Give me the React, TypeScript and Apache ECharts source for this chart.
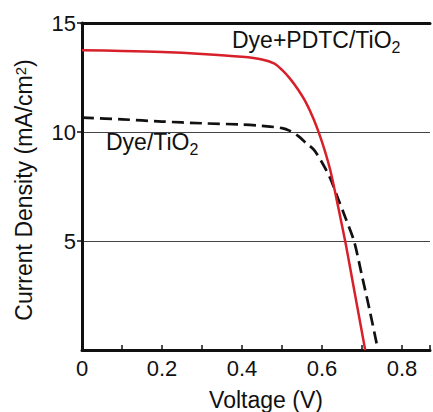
import React, { useEffect, useRef } from "react";
import * as echarts from "echarts";

const xTickLabels = ["0", "0.2", "0.4", "0.6", "0.8"];
const yTickLabels = ["5", "10", "15"];

const pdtcVoltage = [0, 0.1, 0.2, 0.3, 0.4, 0.45, 0.48, 0.5, 0.52, 0.54, 0.56, 0.58, 0.6, 0.62, 0.64, 0.66, 0.68, 0.7, 0.708];
const pdtcCurrent = [13.75, 13.72, 13.67, 13.58, 13.45, 13.33, 13.15, 12.85, 12.45, 11.95, 11.35, 10.55, 9.55, 8.3, 6.6, 4.8, 2.8, 0.8, 0];

const dyeVoltage = [0, 0.1, 0.2, 0.3, 0.4, 0.45, 0.5, 0.52, 0.54, 0.56, 0.58, 0.6, 0.62, 0.64, 0.66, 0.68, 0.7, 0.72, 0.74];
const dyeCurrent = [10.66, 10.58, 10.48, 10.4, 10.34, 10.28, 10.18, 10.05, 9.82, 9.5, 9.18, 8.6, 7.9, 6.95, 6.0, 5.0, 3.4, 1.75, 0];

const FONT = "'Liberation Sans', Arial, Helvetica, sans-serif";

export default function App() {
  const ref = useRef<HTMLDivElement>(null);
  useEffect(() => {
    if (!ref.current) return;
    const chart = echarts.init(ref.current, null, { renderer: "svg" });
    const pairs = (xs: number[], ys: number[]) => xs.map((x, i) => [x, ys[i]]);
    chart.setOption({
      animation: false,
      backgroundColor: "#fff",
      grid: { left: 82, right: 0, top: 23, bottom: 62 },
      xAxis: [
        {
          type: "value",
          min: 0,
          max: 0.87,
          interval: 0.1,
          axisLine: { show: true, onZero: false, lineStyle: { color: "#111", width: 3 } },
          axisTick: { show: true, inside: true, length: 5, lineStyle: { color: "#111", width: 1.5 } },
          splitLine: { show: false },
          axisLabel: {
            margin: 7,
            fontSize: 22,
            fontFamily: FONT,
            color: "#111",
            formatter: (v: number) => {
              const s = String(Math.round(v * 10) / 10);
              return xTickLabels.includes(s) ? s : "";
            },
          },
        },
        {
          type: "value",
          position: "top",
          min: 0,
          max: 0.87,
          axisLine: { show: true, onZero: false, lineStyle: { color: "#111", width: 3 } },
          axisTick: { show: false },
          axisLabel: { show: false },
          splitLine: { show: false },
        },
      ],
      yAxis: {
        type: "value",
        min: 0,
        max: 15,
        interval: 5,
        axisLine: { show: true, onZero: false, lineStyle: { color: "#111", width: 3 } },
        axisTick: { show: true, length: 5, customValues: [5, 10, 15], lineStyle: { color: "#111", width: 1.5 } },
        splitLine: { show: true, lineStyle: { color: "#444", width: 1 } },
        axisLabel: {
          margin: 6,
          fontSize: 22,
          fontFamily: FONT,
          color: "#111",
          formatter: (v: number) => (yTickLabels.includes(String(v)) ? String(v) : ""),
        },
      },
      series: [
        {
          name: "Dye/TiO2",
          type: "line",
          data: pairs(dyeVoltage, dyeCurrent),
          showSymbol: false,
          smooth: 0.3,
          lineStyle: { color: "#111", width: 2.7, type: [12, 6] },
          z: 3,
        },
        {
          name: "Dye+PDTC/TiO2",
          type: "line",
          data: pairs(pdtcVoltage, pdtcCurrent),
          showSymbol: false,
          smooth: 0.3,
          lineStyle: { color: "#d7202a", width: 2.5 },
          z: 4,
        },
      ],
      graphic: [
        {
          type: "text",
          left: 232,
          top: 28,
          style: {
            text: "{a|Dye+PDTC/TiO}{s|2}",
            rich: {
              a: { fontSize: 23, fontFamily: FONT, fill: "#111" },
              s: { fontSize: 16, fontFamily: FONT, fill: "#111", padding: [15, 0, 0, 0] },
            },
          },
        },
        {
          type: "text",
          left: 106,
          top: 130,
          style: {
            text: "{a|Dye/TiO}{s|2}",
            rich: {
              a: { fontSize: 23, fontFamily: FONT, fill: "#111" },
              s: { fontSize: 16, fontFamily: FONT, fill: "#111", padding: [15, 0, 0, 0] },
            },
          },
        },
        {
          type: "text",
          x: 24,
          y: 190,
          rotation: Math.PI / 2,
          style: {
            text: "{a|Current Density (mA/cm}{p|2}{a|)}",
            align: "center",
            verticalAlign: "middle",
            rich: {
              a: { fontSize: 23, fontFamily: FONT, fill: "#111" },
              p: { fontSize: 15, fontFamily: FONT, fill: "#111", padding: [0, 0, 8, 0] },
            },
          },
        },
        {
          type: "text",
          x: 266,
          y: 400,
          style: {
            text: "Voltage (V)",
            align: "center",
            verticalAlign: "middle",
            fontSize: 23,
            fontFamily: FONT,
            fill: "#111",
          },
        },
      ],
    });
    return () => chart.dispose();
  }, []);
  return (
    <div
      ref={ref}
      style={{ position: "fixed", left: 0, top: 0, width: 433, height: 412, background: "#fff" }}
    />
  );
}
